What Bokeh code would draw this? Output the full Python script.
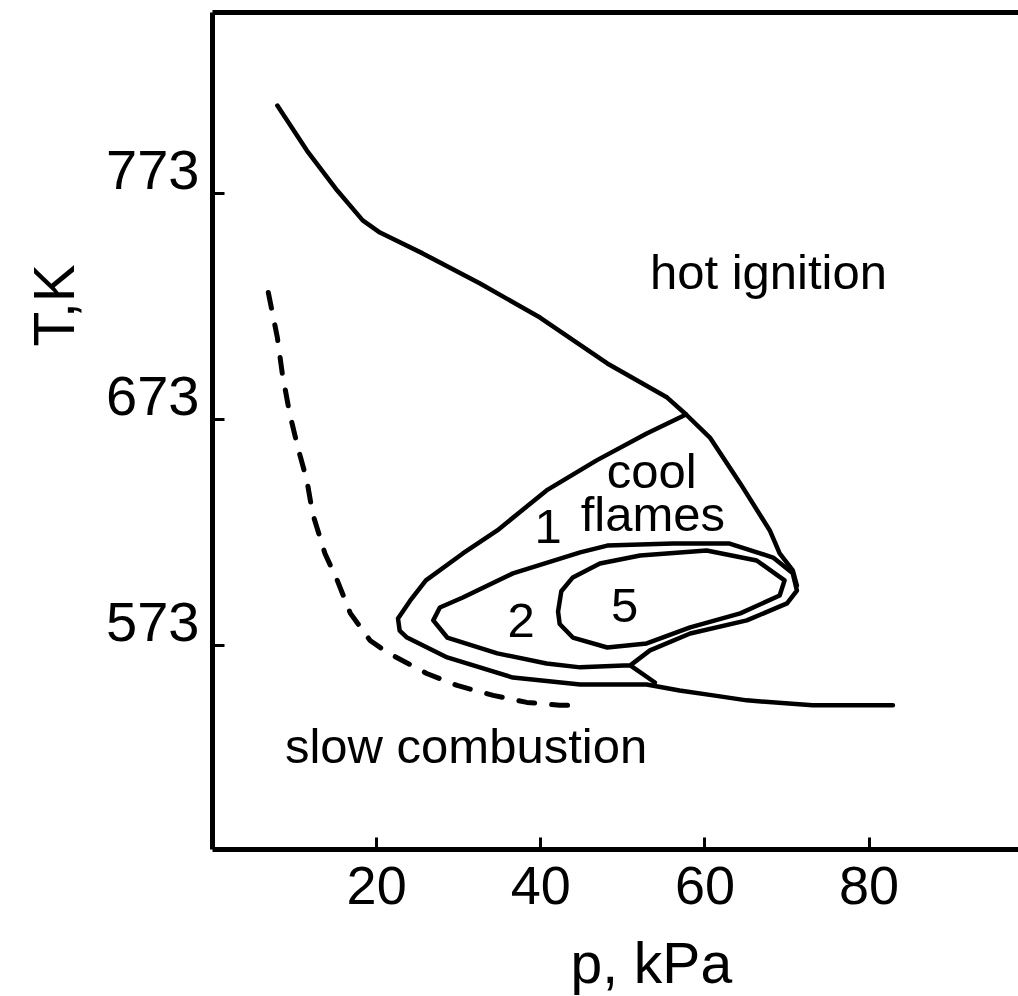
from bokeh.plotting import figure
from bokeh.models import Range1d, LinearAxis, FixedTicker, Label, Title
from bokeh.embed import file_html
from bokeh.resources import INLINE

# ---- data (p in kPa, T in K) ----
# hot-ignition limit (upper curve, ends at the right tip of the peninsula)
hot_p = [7.9, 11.5, 15.2, 18.3, 20.4, 25.6, 32.6, 39.9, 48.1, 55.4, 57.7, 60.6, 64.3, 67.9, 69.1, 70.7, 71.2]
hot_T = [811.9, 792.0, 774.3, 761.1, 755.7, 746.5, 733.2, 718.1, 697.8, 682.7, 675.2, 665.0, 644.7, 623.9, 613.7, 606.2, 599.5]

# cool-flame boundary (1) continuing into the lower limit
cool_p = [57.7, 52.9, 46.8, 40.7, 34.7, 30.5, 26.0, 24.1, 22.6, 22.8, 23.7, 28.6, 36.6, 44.8, 52.9, 56.9, 61.0, 65.1, 73.1, 82.9]
cool_T = [675.2, 666.8, 654.9, 641.6, 623.9, 613.7, 601.8, 592.9, 584.9, 579.6, 576.5, 567.7, 558.8, 555.7, 555.7, 553.1, 550.9, 548.7, 546.5, 546.5]

# region 2 loop, with its short tail to the lower limit
two_p = [53.9, 50.9, 44.8, 40.7, 34.7, 28.6, 26.9, 27.7, 30.5, 36.6, 44.8, 48.1, 56.1, 63.0, 68.3, 70.7, 71.2, 70.0, 65.1, 58.2, 53.3, 50.9]
two_T = [556.6, 564.2, 563.3, 565.0, 569.5, 576.5, 584.1, 589.8, 594.2, 604.9, 614.2, 617.2, 618.1, 618.1, 611.9, 604.9, 597.3, 591.6, 584.1, 578.3, 570.8, 564.2]

# region 5 loop
five_p = [42.1, 42.5, 43.9, 47.2, 52.1, 60.2, 66.3, 69.7, 69.1, 64.3, 58.2, 52.9, 48.1, 43.9, 42.3, 42.1]
five_T = [588.0, 597.0, 603.1, 609.3, 612.8, 615.0, 610.6, 601.8, 595.1, 587.2, 581.0, 573.9, 572.1, 576.5, 582.5, 588.0]

# slow-combustion limit (dashed)
slow_p = [6.8, 7.9, 8.5, 9.4, 10.4, 11.5, 12.2, 13.7, 15.2, 16.8, 19.2, 21.3, 26.1, 29.8, 34.2, 38.3, 42.3, 43.8]
slow_T = [729.2, 709.3, 693.4, 675.7, 660.6, 646.0, 631.4, 613.7, 601.8, 587.2, 575.2, 569.9, 560.6, 555.3, 550.9, 547.8, 546.5, 546.5]

x_ticks = [20, 40, 60, 80]
y_ticks = [573, 673, 773]
x_title = "p, kPa"
y_title = "T,K"

FONT = "Liberation Sans"
X0, X1 = 0, 98.2
Y0, Y1 = 482.7, 853.1
LABEL_SHIFT = 10.4   # y tick labels sit just above their ticks

p = figure(width=1018, height=996,
           x_range=Range1d(X0, X1), y_range=Range1d(Y0, Y1),
           output_backend="svg", toolbar_location=None,
           min_border_left=212, min_border_right=0,
           min_border_top=12, min_border_bottom=147)
p.grid.visible = False
p.outline_line_color = None
p.background_fill_color = "white"
p.border_fill_color = "white"

# bottom axis
xa = p.xaxis[0]
xa.ticker = FixedTicker(ticks=x_ticks)
xa.axis_line_width = 5
xa.axis_line_color = "black"
xa.major_tick_in = 12
xa.major_tick_out = 0
xa.major_tick_line_width = 3
xa.minor_tick_line_color = None
xa.major_label_text_font = FONT
xa.major_label_text_font_size = "54px"
xa.major_label_text_color = "black"
xa.major_label_standoff = 17

# left axis: line + inward ticks
ya = p.yaxis[0]
ya.ticker = FixedTicker(ticks=y_ticks)
ya.axis_line_width = 5
ya.axis_line_color = "black"
ya.major_tick_in = 12
ya.major_tick_out = 0
ya.major_tick_line_width = 3
ya.minor_tick_line_color = None
ya.major_label_text_color = None
ya.major_label_text_font_size = "0px"
ya.major_label_standoff = 0

# left axis tick labels, placed slightly above the ticks
p.extra_y_ranges = {"lab": Range1d(Y0 - LABEL_SHIFT, Y1 - LABEL_SHIFT)}
ylab = LinearAxis(y_range_name="lab", ticker=FixedTicker(ticks=y_ticks),
                  axis_line_color=None, major_tick_line_color=None, minor_tick_line_color=None,
                  major_tick_in=0, major_tick_out=0, minor_tick_in=0, minor_tick_out=0,
                  major_label_text_font=FONT, major_label_text_font_size="56px",
                  major_label_text_color="black", major_label_standoff=13)
p.add_layout(ylab, "left")

# top frame line
top = LinearAxis(ticker=FixedTicker(ticks=[]), axis_line_width=5, axis_line_color="black",
                 major_tick_in=0, major_tick_out=0, minor_tick_in=0, minor_tick_out=0,
                 major_label_text_color=None, major_label_standoff=0)
p.add_layout(top, "above")

# blank gap between the x tick labels and the x title (invisible ticks)
gap = LinearAxis(ticker=FixedTicker(ticks=[50]), axis_line_color=None,
                 major_tick_line_color=None, minor_tick_line_color=None,
                 major_tick_in=0, major_tick_out=21, minor_tick_in=0, minor_tick_out=0,
                 major_label_text_color=None, major_label_text_font_size="0px",
                 major_label_standoff=0)
p.add_layout(gap, "below")

# axis titles
p.add_layout(Title(text=x_title, align="left", offset=358, text_font=FONT,
                   text_font_size="57px", text_font_style="normal", text_color="black",
                   standoff=2), "below")
p.add_layout(Title(text=y_title, align="left", offset=503, text_font=FONT,
                   text_font_size="57px", text_font_style="normal", text_color="black",
                   standoff=35), "left")

# curves
kw = dict(line_color="black", line_width=4.5, line_join="round", line_cap="round")
p.line(hot_p, hot_T, **kw)
p.line(cool_p, cool_T, **kw)
p.line(two_p, two_T, **kw)
p.line(five_p, five_T, **kw)
p.line(slow_p, slow_T, line_color="black", line_width=5, line_dash="16 17",
       line_cap="round", line_join="round")

# region annotations
def note(x, y, s, align="center"):
    p.add_layout(Label(x=x, y=y, text=s, text_align=align, text_baseline="alphabetic",
                       text_font=FONT, text_font_size="49px", text_color="black"))

note(53.3, 738.1, "hot ignition", "left")
note(53.5, 650.0, "cool")
note(53.65, 631.0, "flames")
note(40.9, 625.7, "1")
note(37.6, 584.0, "2")
note(50.2, 590.5, "5")
note(8.83, 528.3, "slow combustion", "left")

open("out.html", "w").write(file_html(p, INLINE))
